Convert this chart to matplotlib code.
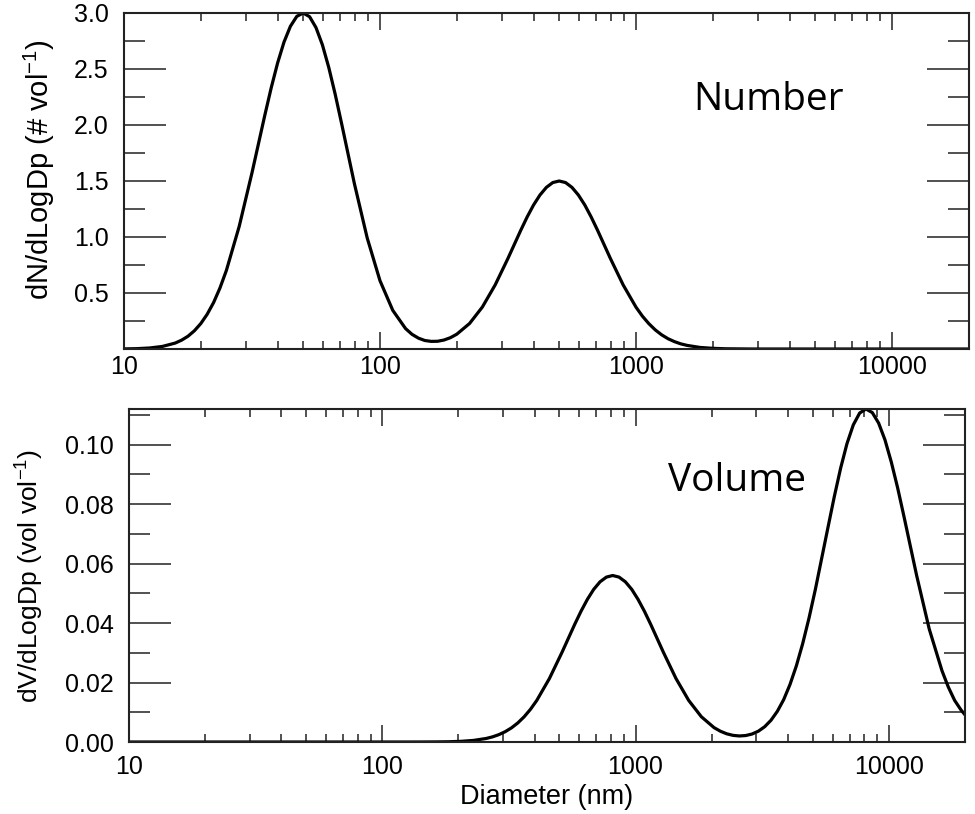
import matplotlib
matplotlib.use("Agg")
import matplotlib.pyplot as plt
from matplotlib.ticker import FixedLocator, NullFormatter

plt.rcParams['font.family'] = ['Liberation Sans', 'DejaVu Sans']
plt.rcParams['mathtext.default'] = 'regular'

# ---------------- data ----------------
number_diam = [10, 11.22, 12.59, 14.13, 15.85, 16.79, 17.78, 18.84, 19.95, 21.13,
               22.39, 23.71, 25.12, 28.18, 31.62, 35.48, 37.58, 39.81, 42.17, 44.67,
               47.32, 50.12, 53.09, 56.23, 59.57, 63.10, 66.83, 70.79, 79.43, 89.13,
               100, 112.2, 125.9, 133.4, 141.3, 149.6, 158.5, 167.9, 177.8, 188.4,
               199.5, 223.9, 251.2, 281.8, 316.2, 354.8, 375.8, 398.1, 421.7, 446.7,
               473.2, 501.2, 530.9, 562.3, 595.7, 631.0, 668.3, 707.9, 794.3, 891.3,
               1000, 1059, 1122, 1189, 1259, 1334, 1413, 1496, 1585, 1778,
               1995, 2239, 2512, 2818, 3162, 5000, 10000, 20000]
number_vals = [0.001, 0.003, 0.009, 0.023, 0.053, 0.079, 0.114, 0.163, 0.227, 0.310,
               0.415, 0.545, 0.702, 1.094, 1.573, 2.086, 2.331, 2.553, 2.740, 2.881,
               2.970, 3.000, 2.967, 2.870, 2.716, 2.513, 2.275, 2.014, 1.477, 0.992,
               0.610, 0.345, 0.182, 0.131, 0.097, 0.076, 0.068, 0.069, 0.080, 0.101,
               0.132, 0.228, 0.375, 0.572, 0.809, 1.060, 1.179, 1.286, 1.375, 1.443,
               1.486, 1.500, 1.486, 1.443, 1.375, 1.286, 1.179, 1.060, 0.809, 0.572,
               0.374, 0.294, 0.227, 0.171, 0.127, 0.092, 0.066, 0.046, 0.032, 0.014,
               0.006, 0.002, 0.001, 0.000, 0.000, 0.000, 0.000, 0.000]

volume_diam = [10, 50, 100, 128.8, 144.5, 162.2, 182.0, 204.2, 229.1, 257.0,
               272.3, 288.4, 305.5, 323.6, 342.8, 363.1, 384.6, 407.4, 457.1, 512.9,
               575.4, 609.5, 645.7, 683.9, 724.4, 767.4, 812.8, 861.0, 912.0, 966.1,
               1023, 1084, 1148, 1288, 1445, 1622, 1820, 2042, 2163, 2291,
               2427, 2570, 2723, 2884, 3055, 3236, 3428, 3631, 3846, 4074,
               4315, 4571, 4842, 5129, 5754, 6095, 6457, 6839, 7244, 7674,
               8128, 8610, 9120, 9661, 10230, 10840, 11480, 12880, 14450, 16220,
               17180, 18200, 19280, 20420]
volume_vals = [0.0, 0.0, 0.0, 0.00000, 0.00001, 0.00003, 0.00008, 0.00022, 0.00053, 0.00118,
               0.00172, 0.00246, 0.00345, 0.00474, 0.00640, 0.00846, 0.01097, 0.01397, 0.02135, 0.03021,
               0.03958, 0.04400, 0.04799, 0.05135, 0.05388, 0.05546, 0.05600, 0.05546, 0.05388, 0.05135,
               0.04799, 0.04400, 0.03958, 0.03021, 0.02135, 0.01398, 0.00849, 0.00484, 0.00363, 0.00276,
               0.00223, 0.00203, 0.00217, 0.00268, 0.00363, 0.00514, 0.00732, 0.01032, 0.01424, 0.01934,
               0.02557, 0.03305, 0.04166, 0.05127, 0.07217, 0.08254, 0.09213, 0.10035, 0.10666, 0.11064,
               0.11200, 0.11079, 0.10726, 0.10162, 0.09420, 0.08548, 0.07589, 0.05607, 0.03798, 0.02400,
               0.01850, 0.01400, 0.01080, 0.00820]

x_ticks = [10, 100, 1000, 10000]
x_ticklabels = ["10", "100", "1000", "10000"]
top_yticks = [0.5, 1.0, 1.5, 2.0, 2.5, 3.0]
top_yticklabels = ["0.5", "1.0", "1.5", "2.0", "2.5", "3.0"]
bot_yticks = [0.00, 0.02, 0.04, 0.06, 0.08, 0.10]
bot_yticklabels = ["0.00", "0.02", "0.04", "0.06", "0.08", "0.10"]

# ---------------- figure ----------------
fig = plt.figure(figsize=(9.75, 8.14), dpi=100)
W, H = 975, 814
ax1 = fig.add_axes([124 / W, 1 - 349 / H, 845 / W, 336 / H])
ax2 = fig.add_axes([129 / W, 1 - 742 / H, 836 / W, 333 / H])

spine_col = '#222222'


def style(ax, yticks, yticklabels, yminor, xpad):
    ax.set_xscale('log')
    ax.set_xlim(10, 20000)
    ax.set_xticks(x_ticks)
    ax.set_xticklabels(x_ticklabels)
    ax.xaxis.set_minor_locator(FixedLocator(
        [m * 10 ** e for e in range(1, 5) for m in range(2, 10) if m * 10 ** e <= 20000]))
    ax.xaxis.set_minor_formatter(NullFormatter())
    ax.set_yticks(yticks)
    ax.set_yticklabels(yticklabels)
    ax.yaxis.set_minor_locator(FixedLocator(yminor))
    for s in ax.spines.values():
        s.set_linewidth(1.5)
        s.set_color(spine_col)
    ax.tick_params(axis='both', which='both', direction='in', top=True, right=True,
                   color=spine_col, width=1.1, labelsize=18)
    ax.tick_params(axis='x', which='major', length=12, pad=xpad)
    ax.tick_params(axis='x', which='minor', length=6)
    ax.tick_params(axis='y', which='major', length=30, pad=11)
    ax.tick_params(axis='y', which='minor', length=15)


ax1.plot(number_diam, number_vals, color='black', lw=2.3, solid_joinstyle='round')
ax1.set_ylim(0, 3.0)
style(ax1, top_yticks, top_yticklabels, [0.25, 0.75, 1.25, 1.75, 2.25, 2.75], 4)
ax1.set_ylabel(r'dN/dLogDp (# vol$^{-1}$)', fontsize=21)
ax1.yaxis.set_label_coords((57 - 124) / 845, (349 - 170) / 336)
ax1.text(693 / W, 1 - 100 / H, 'Number', transform=fig.transFigure,
         fontsize=28, family=['Open Sans', 'DejaVu Sans'], va='center', ha='left')

ax2.plot(volume_diam, volume_vals, color='black', lw=2.3, solid_joinstyle='round')
ax2.set_ylim(0, 0.112)
style(ax2, bot_yticks, bot_yticklabels, [0.01, 0.03, 0.05, 0.07, 0.09, 0.11], 9)
ax2.set_ylabel(r'dV/dLogDp (vol vol$^{-1}$)', fontsize=19)
ax2.yaxis.set_label_coords((46 - 129) / 836, 0.5)
ax2.set_xlabel('Diameter (nm)', fontsize=19.5)
ax2.xaxis.set_label_coords(0.5, (742 - 784) / 333)
ax2.text(668 / W, 1 - 481 / H, 'Volume', transform=fig.transFigure,
         fontsize=28, family=['Open Sans', 'DejaVu Sans'], va='center', ha='left')

fig.savefig('out.png', dpi=100)
